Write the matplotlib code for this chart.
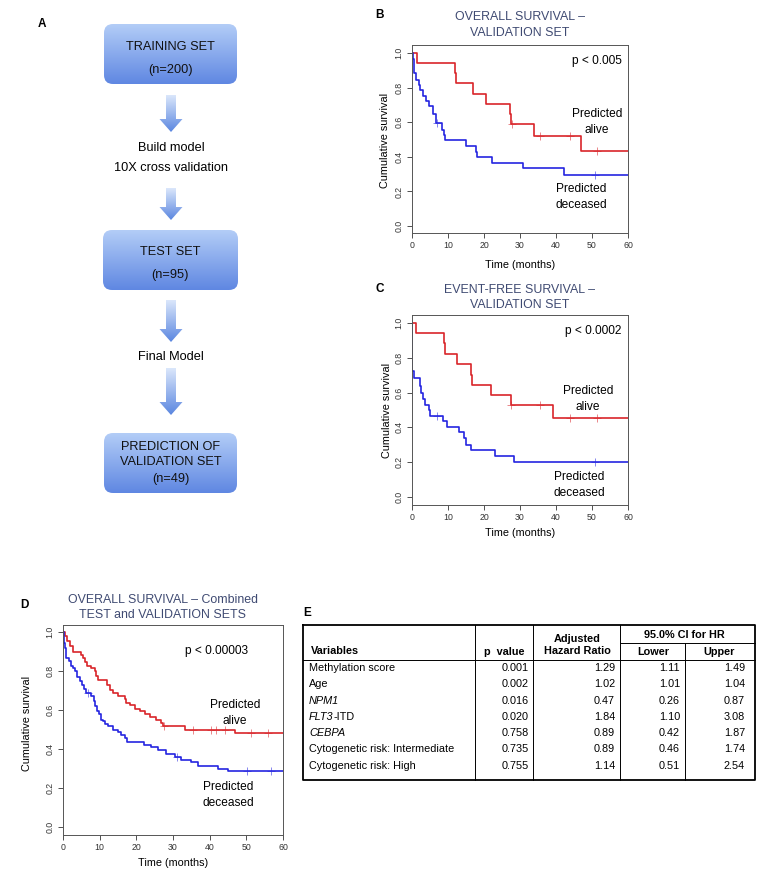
"""Methylation classifier figure: flowchart, Kaplan-Meier curves and Cox table."""
import numpy as np
import matplotlib
matplotlib.use("Agg")
import matplotlib.pyplot as plt
from matplotlib.patches import FancyBboxPatch, Polygon
from matplotlib.colors import LinearSegmentedColormap

plt.rcParams["font.family"] = ["Liberation Sans", "DejaVu Sans"]

# ── Data ─────────────────────────────────────────────────────────────────
# Panel B: overall survival, validation set
b_alive_t = [1.4, 11.9, 12.3, 16.9, 20.5, 27.3, 27.6, 33.8, 47.0]
b_alive_s = [0.942, 0.882, 0.826, 0.764, 0.708, 0.649, 0.591, 0.521, 0.434]
b_alive_c = [27.8, 35.6, 43.9, 51.4]
b_dead_t = [0.28, 0.45, 0.65, 1.2, 1.86, 2.2, 3.07, 4.0, 4.65, 5.9, 6.7,
            8.4, 8.8, 9.3, 14.9, 17.7, 18.0, 22.3, 30.7, 42.3]
b_dead_s = [0.967, 0.935, 0.884, 0.846, 0.815, 0.784, 0.753, 0.72, 0.691, 0.65, 0.595,
            0.556, 0.527, 0.498, 0.463, 0.43, 0.398, 0.363, 0.334, 0.295]
b_dead_c = [7.0, 50.7]

# Panel C: event-free survival, validation set
c_alive_t = [1.2, 8.8, 9.3, 12.6, 16.3, 16.7, 21.9, 27.4, 39.3]
c_alive_s = [0.943, 0.885, 0.824, 0.764, 0.703, 0.646, 0.586, 0.527, 0.454]
c_alive_c = [27.6, 35.6, 43.9, 51.4]
c_dead_t = [0.1, 0.65, 2.3, 2.6, 3.1, 3.5, 4.65, 5.1, 8.65, 9.8, 13.0, 14.4,
            14.9, 16.3, 23.0, 28.2]
c_dead_s = [0.722, 0.684, 0.64, 0.598, 0.563, 0.531, 0.502, 0.467, 0.435, 0.402,
            0.372, 0.339, 0.30, 0.272, 0.234, 0.199]
c_dead_c = [7.0, 50.7]

# Panel D: overall survival, test + validation
d_alive_t = [0.45, 1.2, 1.8, 2.7, 4.8, 5.45, 6.1, 6.6, 7.5, 8.6, 9.1, 9.5, 12.1,
             12.7, 13.6, 15.0, 16.8, 17.3, 18.2, 19.5, 20.9, 22.3, 23.6, 25.5,
             26.8, 27.3, 33.4, 46.8]
d_alive_s = [0.978, 0.952, 0.927, 0.9, 0.884, 0.867, 0.846, 0.824, 0.815, 0.799,
             0.773, 0.756, 0.730, 0.705, 0.688, 0.671, 0.654, 0.637, 0.628, 0.607,
             0.594, 0.58, 0.563, 0.551, 0.534, 0.517, 0.5, 0.483]
d_alive_c = [27.6, 35.5, 40.5, 41.8, 44.1, 51.4, 55.9]
d_dead_t = [0.15, 0.3, 0.5, 0.7, 0.9, 1.55, 2.1, 2.8, 3.4, 3.9, 4.5, 5.2, 5.7,
            6.4, 7.7, 8.5, 8.8, 9.4, 9.7, 10.3, 10.9, 11.4, 12.3, 13.6, 15.0,
            15.9, 16.8, 17.5, 22.1, 24.1, 25.9, 28.2, 30.5, 32.3, 35.0, 36.8,
            42.3, 45.0]
d_dead_s = [0.97, 0.945, 0.92, 0.895, 0.867, 0.85, 0.824, 0.815, 0.799, 0.768,
            0.747, 0.727, 0.71, 0.688, 0.671, 0.645, 0.619, 0.597, 0.577, 0.551,
            0.543, 0.529, 0.517, 0.5, 0.488, 0.474, 0.457, 0.437, 0.423, 0.41,
            0.396, 0.372, 0.358, 0.346, 0.334, 0.312, 0.3, 0.287]
d_dead_c = [6.8, 31.0, 50.3, 56.6]

# Panel E: multivariate Cox model (gene names are set in italics)
variables = ["Methylation score", "Age", "NPM1", "FLT3-ITD", "CEBPA",
             "Cytogenetic risk: Intermediate", "Cytogenetic risk: High"]
italic_part = ["", "", "NPM1", "FLT3", "CEBPA", "", ""]
p_values = [0.001, 0.002, 0.016, 0.020, 0.758, 0.735, 0.755]
hazard_ratios = [1.29, 1.02, 0.47, 1.84, 0.89, 0.89, 1.14]
ci_lower = [1.11, 1.01, 0.26, 1.10, 0.42, 0.46, 0.51]
ci_upper = [1.49, 1.04, 0.87, 3.08, 1.87, 1.74, 2.54]

# ── Style ────────────────────────────────────────────────────────────────
W, H = 765, 880
RED = "#d9252a"
BLUE = "#2525e0"
TITLE = "#3f4a72"
BOX_TOP, BOX_BOT = "#b3cdf7", "#5f87e2"
ARROW_TOP, ARROW_BOT = "#dbe7fb", "#5a86e0"
KM_FS = 8.6
TAB_FS = 7.8

fig = plt.figure(figsize=(W / 100, H / 100), dpi=100)
bg = fig.add_axes([0, 0, 1, 1])
bg.axis("off")


def px_axes(left, top, right, bottom):
    ax = fig.add_axes([left / W, 1 - bottom / H, (right - left) / W, (bottom - top) / H])
    ax.set_facecolor("none")
    return ax


def gradient_fill(patch, x0, y0, x1, y1, c_top, c_bot):
    bg.add_patch(patch)
    cmap = LinearSegmentedColormap.from_list("grad", [c_top, c_bot])
    im = bg.imshow(np.linspace(0, 1, 256)[:, None], extent=(x0, x1, y1, y0),
                   cmap=cmap, aspect="auto", origin="upper", zorder=1)
    im.set_clip_path(patch)


def flow_box(x0, y0, x1, y1, lines, ys):
    patch = FancyBboxPatch((x0, y0), x1 - x0, y1 - y0,
                           boxstyle="round,pad=0,rounding_size=9",
                           facecolor="none", edgecolor="none")
    gradient_fill(patch, x0, y0, x1, y1, BOX_TOP, BOX_BOT)
    for txt, y in zip(lines, ys):
        bg.text((x0 + x1) / 2, y, txt, ha="center", va="center",
                fontsize=9.2, color="#111111", zorder=3)


def flow_arrow(xc, y0, y1):
    head = 13
    pts = [(xc - 5, y0), (xc + 5, y0), (xc + 5, y1 - head), (xc + 11.5, y1 - head),
           (xc, y1), (xc - 11.5, y1 - head), (xc - 5, y1 - head)]
    patch = Polygon(pts, closed=True, facecolor="none", edgecolor="none")
    gradient_fill(patch, xc - 12, y0, xc + 12, y1, ARROW_TOP, ARROW_BOT)


def km_panel(ax, curves, ylim):
    for times, surv, cens, color in curves:
        x = np.r_[0, times, 60]
        y = np.r_[1, surv, surv[-1]]
        ax.step(x, y, where="post", color=color, lw=1.2)
        idx = np.searchsorted(times, cens, side="right")
        cy = np.r_[1, surv][idx]
        ax.plot(cens, cy, ls="none", marker="+", ms=6, mew=0.7, color=color, alpha=0.55)
    ax.set_xlim(0, 60)
    ax.set_ylim(*ylim)
    ax.set_xticks(range(0, 61, 10))
    yt = [0.0, 0.2, 0.4, 0.6, 0.8, 1.0]
    ax.set_yticks(yt)
    ax.set_yticklabels([f"{v:.1f}" for v in yt], rotation=90, va="center")
    ax.tick_params(labelsize=6.3, length=3.5, width=0.6, pad=2.5, colors="#333333")
    for s in ax.spines.values():
        s.set_linewidth(0.7)
        s.set_color("#555555")


# ── Panel A: flowchart ───────────────────────────────────────────────────
bg.text(42, 24, "A", fontsize=8.5, fontweight="bold", ha="center", va="center")
flow_box(104, 24, 237, 84, ["TRAINING SET", "(n=200)"], [47, 70])
flow_arrow(171, 95, 132)
bg.text(171, 148, "Build model", ha="center", va="center", fontsize=9.2)
bg.text(171, 168, "10X cross validation", ha="center", va="center", fontsize=9.2)
flow_arrow(171, 188, 220)
flow_box(103, 230, 238, 290, ["TEST SET", "(n=95)"], [252, 275])
flow_arrow(171, 300, 342)
bg.text(171, 357, "Final Model", ha="center", va="center", fontsize=9.2)
flow_arrow(171, 368, 415)
flow_box(104, 433, 237, 493, ["PREDICTION OF", "VALIDATION SET", "(n=49)"],
         [447, 462, 479])

# ── Panels B, C, D: Kaplan-Meier curves ──────────────────────────────────
ax_b = px_axes(412, 45, 628, 233)
km_panel(ax_b, [(b_alive_t, b_alive_s, b_alive_c, RED),
                (b_dead_t, b_dead_s, b_dead_c, BLUE)], (-0.04, 1.046))
ax_c = px_axes(412, 315, 628, 505)
km_panel(ax_c, [(c_alive_t, c_alive_s, c_alive_c, RED),
                (c_dead_t, c_dead_s, c_dead_c, BLUE)], (-0.046, 1.046))
ax_d = px_axes(63, 625, 283, 835)
km_panel(ax_d, [(d_alive_t, d_alive_s, d_alive_c, RED),
                (d_dead_t, d_dead_s, d_dead_c, BLUE)], (-0.041, 1.036))

panel_text = [
    # label, label xy, title lines, title ys, title x, ylabel xy, xlabel xy,
    # p text, p xy, "alive" xy, "deceased" xy
    ("B", (380, 15), ["OVERALL SURVIVAL –", "VALIDATION SET"], [17, 33], 520,
     (385, 140), (520, 265), "p < 0.005", (597, 61), (597, 122), (581, 197)),
    ("C", (380, 289), ["EVENT-FREE SURVIVAL –", "VALIDATION SET"], [290, 305], 520,
     (387, 410), (520, 533), "p < 0.0002", (593, 331), (588, 399), (579, 485)),
    ("D", (24, 605), ["OVERALL SURVIVAL – Combined", "TEST and VALIDATION SETS"],
     [600, 615], 163, (27, 723), (173, 863), "p < 0.00003", (217, 651), (235, 713),
     (228, 795)),
]
for lab, lxy, tlines, tys, tx, ylxy, xlxy, ptxt, pxy, axy, dxy in panel_text:
    bg.text(*lxy, lab, fontsize=8.5, fontweight="bold", ha="center", va="center")
    for t, ty in zip(tlines, tys):
        bg.text(tx, ty, t, ha="center", va="center", fontsize=8.9, color=TITLE)
    bg.text(*ylxy, "Cumulative survival", rotation=90, ha="center", va="center",
            fontsize=7.8)
    bg.text(*xlxy, "Time (months)", ha="center", va="center", fontsize=7.8)
    bg.text(*pxy, ptxt, ha="center", va="center", fontsize=KM_FS)
    bg.text(*axy, "Predicted\nalive", ha="center", va="center", fontsize=KM_FS,
            linespacing=1.35)
    bg.text(*dxy, "Predicted\ndeceased", ha="center", va="center", fontsize=KM_FS,
            linespacing=1.35)

# ── Panel E: Cox regression table ────────────────────────────────────────
bg.text(307, 613, "E", fontsize=8.5, fontweight="bold", ha="center", va="center")
cols = [303, 475, 533, 620, 685, 755]
top, ci_line, head_bot, bottom = 625, 643, 660, 780
bg.plot([cols[0], cols[-1], cols[-1], cols[0], cols[0]], [top, top, bottom, bottom, top],
        color="black", lw=1.3)
bg.plot([cols[0], cols[-1]], [head_bot, head_bot], color="black", lw=0.7)
bg.plot([cols[3], cols[-1]], [ci_line, ci_line], color="black", lw=0.7)
for x in cols[1:4]:
    bg.plot([x, x], [top, bottom], color="black", lw=0.7)
bg.plot([cols[4], cols[4]], [ci_line, bottom], color="black", lw=0.7)

hdr = dict(fontsize=TAB_FS, fontweight="bold", va="center")
bg.text(311, 651, "Variables", ha="left", **hdr)
bg.text(504, 652, "p  value", ha="center", **hdr)
bg.text(577, 639, "Adjusted", ha="center", **hdr)
bg.text(577, 651, "Hazard Ratio", ha="center", **hdr)
bg.text(684, 635, "95.0% CI for HR", ha="center", **hdr)
bg.text(653, 652, "Lower", ha="center", **hdr)
bg.text(719, 652, "Upper", ha="center", **hdr)

for i, name in enumerate(variables):
    y = 668 + i * 16.3
    ital = italic_part[i]
    if ital:
        t = bg.text(309, y, ital, ha="left", va="center", fontsize=TAB_FS,
                    fontstyle="italic")
        rest = name[len(ital):]
        if rest:
            bg.annotate(rest, xy=(1, 0.5), xycoords=t, ha="left", va="center",
                        fontsize=TAB_FS)
    else:
        bg.text(309, y, name, ha="left", va="center", fontsize=TAB_FS)
    bg.text(529, y, f"{p_values[i]:.3f}", ha="right", va="center", fontsize=TAB_FS)
    bg.text(615, y, f"{hazard_ratios[i]:.2f}", ha="right", va="center", fontsize=TAB_FS)
    bg.text(680, y, f"{ci_lower[i]:.2f}", ha="right", va="center", fontsize=TAB_FS)
    bg.text(745, y, f"{ci_upper[i]:.2f}", ha="right", va="center", fontsize=TAB_FS)

bg.set_xlim(0, W)
bg.set_ylim(H, 0)
fig.savefig("out.png", dpi=100)
